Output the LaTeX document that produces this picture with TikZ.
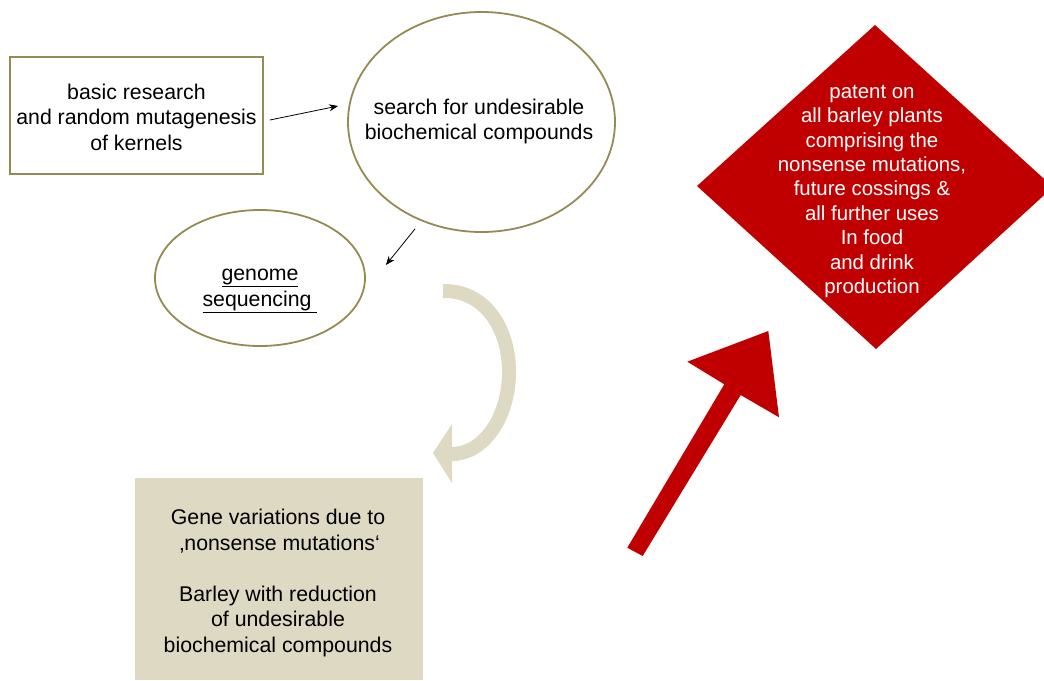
\documentclass[tikz,border=0pt]{standalone}
\usepackage{fontspec}
\setmainfont{Liberation Sans}
\usetikzlibrary{shapes.geometric,arrows.meta}
\definecolor{olive}{HTML}{948A54}
\definecolor{tan}{HTML}{DDD9C3}
\definecolor{darkred}{HTML}{C00000}
\tikzset{
  txt/.style={align=center,inner sep=0pt,font=\fontsize{21.3}{25.5}\selectfont},
  dtxt/.style={align=center,inner sep=0pt,text=white,font=\fontsize{20.4}{24.4}\selectfont},
  obox/.style={draw=olive,line width=1.8pt,rectangle,inner sep=0pt},
  oell/.style={draw=olive,line width=1.8pt,ellipse,inner sep=0pt},
  thinarr/.style={draw=black,line width=0.8pt,-{Stealth[length=9pt,width=7pt]}},
  band/.style={draw=tan,line width=14pt},
}
\begin{document}
\begin{tikzpicture}[x=1pt,y=-1pt]
\useasboundingbox (0,0) rectangle (1044,680);
\clip (0,0) rectangle (1044,680);
% box 1
\node[obox,minimum width=253pt,minimum height=117pt] (box1) at (136.5,115.5) {};
\node[txt] (t1) at (136.5,117) {basic research\\and random mutagenesis\\of kernels};
% ellipse 1
\node[oell,minimum width=267pt,minimum height=220pt] (ell1) at (481.5,122) {};
\node[txt] (t2) at (479,121.5) {search for undesirable\\biochemical compounds};
% ellipse 2
\node[oell,minimum width=210pt,minimum height=136pt] (ell2) at (260,278) {};
\node[txt] (t3) at (260,291) {\underline{genome}\\\underline{sequencing\ }};
% thin arrows
\draw[thinarr] ([xshift=6pt,yshift=-4.5pt]box1.east) -- ([xshift=-9pt,yshift=16pt]ell1.west);
\draw[thinarr] ([xshift=-66.5pt,yshift=4pt]ell1.south) -- ([xshift=20pt,yshift=13pt]ell2.east);
% gene box
\node[fill=tan,rectangle,inner sep=0pt,minimum width=288pt,minimum height=202pt] (gene) at (279,579) {};
\node[txt] (t4) at (278,583) {Gene variations due to\\ \,‚nonsense mutations‘\\[25.5pt]Barley with reduction\\of undesirable\\biochemical compounds};
% curved arrow
\coordinate (cs) at (443,291);
\coordinate (cm) at (509,372);
\coordinate (ce) at (452,454);
\draw[band] (cs) .. controls (483.5,290) and (509,326.7) .. (cm) .. controls (509,417.3) and (483.5,454) .. (ce);
\fill[tan] (452,424) -- (433,453) -- (452,483) -- cycle;
% diamond
\fill[darkred] (875,25) coordinate (dt) -- (1053,187) coordinate (dr) -- (876,349) coordinate (db) -- (697,186) coordinate (dl) -- cycle;
\node[dtxt] (t5) at (872,191.5) {patent on\\all barley plants\\comprising the\\nonsense mutations,\\future cossings \&\\all further uses\\In food\\and drink\\production};
% red arrow
\fill[darkred] (627.3,547.7) -- (724.3,384.3) -- (687.3,361.7) -- (768.3,331) -- (779,417.3) -- (740.7,395) -- (642.7,556) -- cycle;
\end{tikzpicture}
\end{document}
